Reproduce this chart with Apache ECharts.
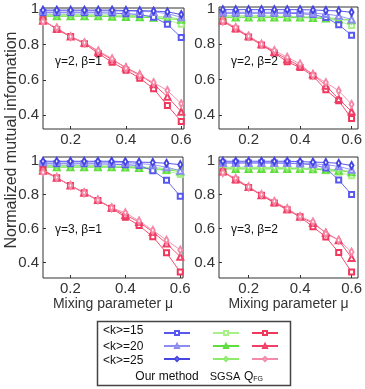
<!DOCTYPE html>
<html>
<head>
<meta charset="utf-8">
<script src="https://cdn.jsdelivr.net/npm/echarts@6/dist/echarts.min.js"></script>
<style>html,body{margin:0;padding:0;background:#fff}#c{width:365px;height:389px}</style>
</head>
<body>
<div id="c"></div>
<script>
const mu = [0.1,0.15,0.2,0.25,0.3,0.35,0.4,0.45,0.5,0.55,0.6];
const xTicks = [0.2,0.4,0.6];
const yTicks = [0.4,0.6,0.8,1];
const kLabels = ['<k>=15','<k>=20','<k>=25'];
const methodLabels = ['Our method','SGSA','Q'];
const panelLabels = ['γ=2, β=1','γ=2, β=2','γ=3, β=1','γ=3, β=2'];

// each array: [k=15, k=20, k=25]
const g2b1_our = [
  [0.98,0.98,0.98,0.98,0.98,0.978,0.975,0.97,0.955,0.915,0.84],
  [0.99,0.99,0.99,0.99,0.99,0.99,0.99,0.988,0.985,0.975,0.955],
  [0.995,0.995,0.995,0.995,0.995,0.995,0.993,0.992,0.99,0.985,0.97]];
const g2b1_sgsa = [
  [0.965,0.965,0.965,0.965,0.963,0.962,0.96,0.958,0.952,0.94,0.915],
  [0.96,0.96,0.96,0.96,0.96,0.958,0.956,0.955,0.952,0.947,0.94],
  [0.97,0.97,0.97,0.969,0.968,0.967,0.965,0.963,0.96,0.955,0.945]];
const g2b1_qfg = [
  [0.94,0.885,0.845,0.805,0.75,0.70,0.655,0.61,0.55,0.455,0.365],
  [0.935,0.89,0.845,0.81,0.76,0.715,0.67,0.63,0.575,0.505,0.42],
  [0.93,0.895,0.845,0.81,0.765,0.72,0.665,0.625,0.585,0.54,0.465]];

const g2b2_our = [
  [0.975,0.975,0.975,0.975,0.975,0.975,0.972,0.968,0.95,0.91,0.85],
  [0.98,0.98,0.98,0.98,0.98,0.98,0.978,0.975,0.97,0.96,0.94],
  [0.995,0.995,0.995,0.995,0.995,0.995,0.995,0.993,0.99,0.988,0.98]];
const g2b2_sgsa = [
  [0.955,0.955,0.955,0.955,0.955,0.953,0.952,0.95,0.945,0.93,0.905],
  [0.95,0.95,0.95,0.95,0.95,0.95,0.95,0.948,0.945,0.94,0.935],
  [0.96,0.96,0.96,0.96,0.958,0.957,0.955,0.953,0.95,0.945,0.935]];
const g2b2_qfg = [
  [0.93,0.885,0.84,0.795,0.75,0.70,0.668,0.62,0.542,0.48,0.379],
  [0.935,0.89,0.845,0.80,0.755,0.715,0.675,0.63,0.565,0.49,0.419],
  [0.93,0.895,0.845,0.80,0.764,0.726,0.688,0.625,0.583,0.536,0.46]];

const g3b1_our = [
  [0.98,0.98,0.98,0.98,0.98,0.978,0.975,0.97,0.94,0.884,0.79],
  [0.99,0.99,0.99,0.99,0.99,0.988,0.986,0.982,0.975,0.96,0.94],
  [0.995,0.995,0.995,0.995,0.995,0.995,0.993,0.99,0.988,0.983,0.975]];
const g3b1_sgsa = [
  [0.965,0.965,0.965,0.965,0.965,0.963,0.96,0.955,0.95,0.94,0.917],
  [0.96,0.96,0.96,0.96,0.96,0.96,0.958,0.955,0.952,0.945,0.935],
  [0.97,0.97,0.97,0.97,0.968,0.967,0.965,0.962,0.958,0.952,0.94]];
const g3b1_qfg = [
  [0.945,0.898,0.853,0.81,0.765,0.72,0.667,0.618,0.552,0.458,0.345],
  [0.94,0.898,0.853,0.81,0.767,0.722,0.68,0.638,0.58,0.513,0.435],
  [0.93,0.90,0.853,0.81,0.768,0.722,0.693,0.645,0.59,0.532,0.474]];

const g3b2_our = [
  [0.985,0.985,0.985,0.985,0.985,0.983,0.98,0.975,0.955,0.885,0.80],
  [0.985,0.985,0.985,0.985,0.985,0.985,0.983,0.98,0.975,0.965,0.945],
  [0.995,0.995,0.995,0.995,0.995,0.995,0.993,0.99,0.988,0.983,0.97]];
const g3b2_sgsa = [
  [0.955,0.955,0.955,0.955,0.955,0.953,0.952,0.95,0.94,0.93,0.91],
  [0.95,0.95,0.95,0.95,0.95,0.95,0.95,0.948,0.945,0.94,0.93],
  [0.96,0.96,0.96,0.96,0.958,0.957,0.955,0.953,0.95,0.945,0.935]];
const g3b2_qfg = [
  [0.934,0.885,0.841,0.796,0.75,0.71,0.669,0.61,0.551,0.459,0.345],
  [0.935,0.89,0.845,0.796,0.755,0.714,0.669,0.632,0.576,0.532,0.428],
  [0.928,0.895,0.845,0.80,0.76,0.718,0.67,0.64,0.57,0.532,0.463]];

const panels = [
  [g2b1_our, g2b1_sgsa, g2b1_qfg],
  [g2b2_our, g2b2_sgsa, g2b2_qfg],
  [g3b1_our, g3b1_sgsa, g3b1_qfg],
  [g3b2_our, g3b2_sgsa, g3b2_qfg]];

const colors = [
  ['#5858f0','#8c8cf2','#4545e2'],
  ['#a8f088','#5ede3c','#8ceb6a'],
  ['#f0385e','#f04068','#f58aa8']];
const symbols = ['emptyRect','emptyTriangle','emptyDiamond'];
const symSizes = [5,6,[4,7]];

const grids = [
  {left:43, top:8, width:141, height:121},
  {left:219, top:7, width:144, height:122},
  {left:43, top:157, width:140, height:121},
  {left:219, top:157, width:144, height:121}];
const yRanges = [[0.322,1.007],[0.32,1.01],[0.31,1.02],[0.31,1.02]];
const xRanges = [[0.1,0.61],[0.085,0.625],[0.1,0.61],[0.085,0.625]];

const FONT = '"Liberation Sans", Arial, sans-serif';
const option = {
  animation:false,
  backgroundColor:'#fff',
  grid: grids.map(g => Object.assign({show:true, borderColor:'#333', borderWidth:1, backgroundColor:'#fff'}, g)),
  xAxis: grids.map((g,i) => ({
    type:'value', gridIndex:i, min:xRanges[i][0], max:xRanges[i][1],
    axisLine:{show:false}, splitLine:{show:false},
    axisTick:{show:true, inside:true, length:3, customValues:xTicks, lineStyle:{color:'#333'}},
    axisLabel:{customValues:xTicks, formatter:v=>v.toFixed(1), fontSize:15, color:'#333', fontFamily:FONT, margin:3},
    name: i>=2 ? 'Mixing parameter μ' : '', nameLocation:'middle', nameGap:19,
    nameTextStyle:{fontSize:14, color:'#333', fontFamily:FONT}
  })),
  yAxis: grids.map((g,i) => ({
    type:'value', gridIndex:i, min:yRanges[i][0], max:yRanges[i][1],
    axisLine:{show:false}, splitLine:{show:false},
    axisTick:{show:true, inside:true, length:3, customValues:yTicks, lineStyle:{color:'#333'}},
    axisLabel:{customValues:yTicks, formatter:v=>(v===1?'1':v.toFixed(1)), fontSize:15, color:'#333', fontFamily:FONT, margin:4}
  })),
  legend: [0,1,2].map(m => ({
    orient:'vertical', left:[163,212,251][m], top:330, itemWidth:26, itemHeight:5, itemGap:7,
    padding:0, formatter:()=>'', data:[0,1,2].map(k => methodLabels[m]+' '+kLabels[k]),
    selectedMode:false
  })),
  graphic: [],
  series: []
};

panels.forEach((pan, p) => {
  pan.forEach((meth, m) => {
    meth.forEach((vals, k) => {
      option.series.push({
        type:'line', name: methodLabels[m]+' '+kLabels[k],
        xAxisIndex:p, yAxisIndex:p,
        data: mu.map((x,j)=>[x, vals[j]]),
        symbol: symbols[k], symbolSize: symSizes[k],
        lineStyle:{color:colors[m][k], width:0.9},
        itemStyle:{color:colors[m][k], borderWidth:0.8},
        z: 2 + (m===2?2:(m===0?1:0))
      });
    });
  });
});

// panel annotations
const annPos = [[55,63],[231,63],[55,231],[231,231]];
panelLabels.forEach((t,i) => option.graphic.push({
  type:'text', left:annPos[i][0], top:annPos[i][1]-7, z:10,
  style:{text:t, fontSize:12, fill:'#111', fontFamily:FONT}
}));
// y axis title
option.graphic.push({
  type:'text', x:12, y:140, rotation:Math.PI/2, z:10,
  style:{text:'Normalized mutual information', fontSize:16, fill:'#333', fontFamily:FONT, align:'center', verticalAlign:'middle'}
});
// legend box
option.graphic.push({
  type:'rect', shape:{x:97.5, y:321.5, width:193, height:64}, z:0,
  style:{fill:'#fff', stroke:'#444', lineWidth:1.5}
});
const rowY = [331, 346.5, 361];
kLabels.forEach((t,i) => option.graphic.push({
  type:'text', x:103, y:rowY[i], z:10,
  style:{text:t, fontSize:12, fill:'#111', fontFamily:FONT, verticalAlign:'middle'}
}));
option.graphic.push({type:'text', x:167, y:377, z:10,
  style:{text:methodLabels[0], fontSize:12, fill:'#111', fontFamily:FONT, align:'center', verticalAlign:'middle'}});
option.graphic.push({type:'text', x:225, y:377, z:10,
  style:{text:methodLabels[1], fontSize:11, fill:'#111', fontFamily:FONT, align:'center', verticalAlign:'middle'}});
option.graphic.push({type:'text', x:244, y:377, z:10,
  style:{text:'{q|'+methodLabels[2]+'}{s|FG}', fontFamily:FONT, verticalAlign:'middle',
    rich:{q:{fontSize:12, fill:'#111', fontFamily:FONT}, s:{fontSize:7, fill:'#111', fontFamily:FONT, verticalAlign:'bottom', padding:[5,0,0,0]}}}});

const chart = echarts.init(document.getElementById('c'), null, {renderer:'canvas'});
chart.setOption(option);
</script>
</body>
</html>
